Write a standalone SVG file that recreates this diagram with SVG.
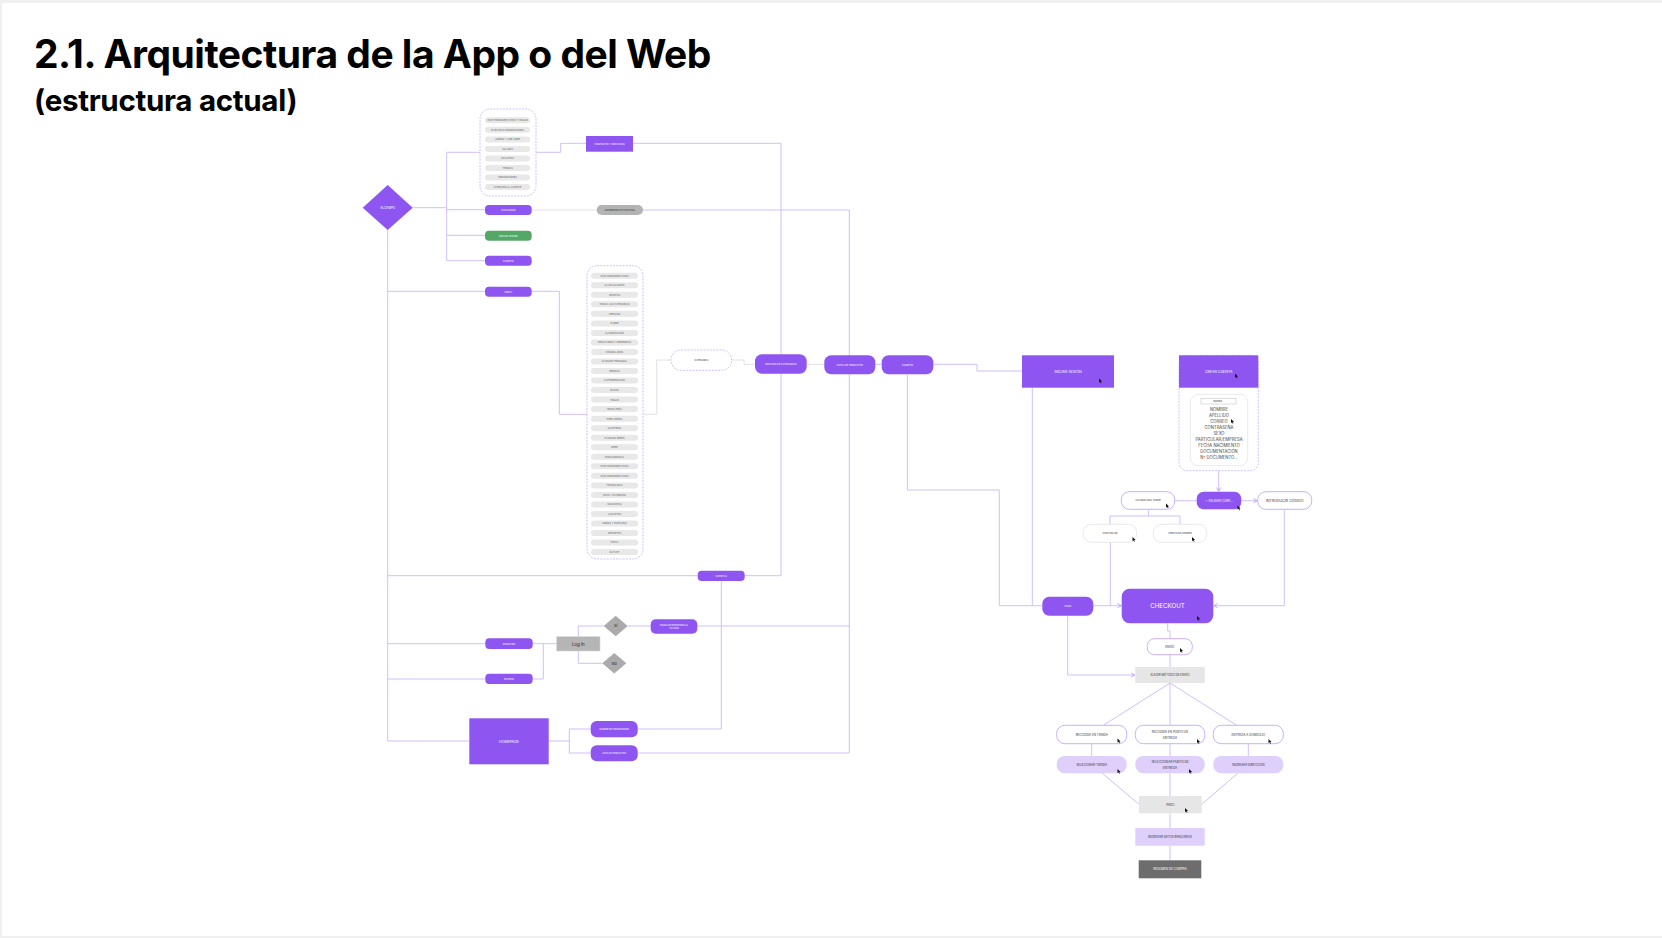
<svg xmlns="http://www.w3.org/2000/svg" width="1662" height="938" viewBox="0 0 1662 938">
<style>
.t{font-family:Inter,"Liberation Sans",sans-serif;text-anchor:middle}
.title{font-family:Inter,"Liberation Sans",sans-serif;font-weight:700;fill:#000}
.w{fill:#fff}
.d{fill:#333}
.li{fill:#666}
.s25{font-size:2.5px}
.s3{font-size:3px}
.s35{font-size:3.6px}
.c{fill:none;stroke:#d2bffb;stroke-width:1}
.cg{fill:none;stroke:#e2e2e2;stroke-width:1}
.p{fill:#8f55f1}
.pill{fill:#8f55f1}
.item{fill:#e8e8e8}
.dash{fill:#fff;stroke:#c7aefb;stroke-width:0.8;stroke-dasharray:2 1.2}
.wp{fill:#fff;stroke:#c4a6fb;stroke-width:0.9}
.wg{fill:#fff;stroke:#e3e3e3;stroke-width:0.8}
.lp{fill:#dfcffb}
.gr{fill:#e6e6e6}
</style>
<defs>
<marker id="ah" viewBox="0 0 6 6" refX="5" refY="3" markerWidth="5" markerHeight="5" orient="auto" markerUnits="userSpaceOnUse">
<path d="M0.5 0.5 L5 3 L0.5 5.5" fill="none" stroke="#b896fb" stroke-width="1"/>
</marker>
<path id="cur" d="M0 0 L0 4.2 L1 3.2 L1.8 4.8 L2.5 4.5 L1.7 2.9 L3.1 2.9 Z" fill="#111"/>
</defs>
<rect x="0" y="0" width="1662" height="938" fill="#f0f0f0"/>
<rect x="2" y="3" width="1660" height="933" fill="#fff"/>
<text class="title" x="34" y="68" font-size="39" letter-spacing="-0.5">2.1. Arquitectura de la App o del Web</text>
<text class="title" x="34" y="111" font-size="29.5" letter-spacing="-0.3">(estructura actual)</text>

<g id="connectors">
<path class="c" d="M412.7 207.7 H446.7"/>
<path class="c" d="M480 152.3 H446.7 V260.7 H485"/>
<path class="c" d="M446.7 209.7 H485"/>
<path class="c" d="M446.7 235.3 H485"/>
<path class="c" d="M536 152.3 H560.7 V143.3 H586"/>
<path class="c" d="M633 143.3 H781 V575.7 H744.7"/>
<path class="cg" d="M531.7 210 H596.7"/>
<path class="c" d="M643 210 H849.3 V753 H637.7"/>
<path class="c" d="M387.7 230 V741 H469.3"/>
<path class="c" d="M387.7 291.3 H485"/>
<path class="c" d="M531.7 291.3 H559.3 V414.3 H587"/>
<path class="c" d="M387.7 575.7 H697.7"/>
<path class="c" d="M721.3 581 V729 H637.7"/>
<path class="c" d="M387.7 643.7 H485.3"/>
<path class="c" d="M387.7 679 H485.3"/>
<path class="c" d="M532.7 643.7 H556.7"/>
<path class="c" d="M532.7 679 H543.3 V643.7"/>
<path class="c" d="M578.3 636.7 V626 H603.7"/>
<path class="c" d="M578.3 651 V663.3 H602.3"/>
<path class="c" d="M627.7 626 H650.7"/>
<path class="c" d="M697.3 626 H849.3"/>
<path class="c" d="M548.7 741 H569.3 M569.3 729 V753 M569.3 729 H590.7 M569.3 753 H590.7"/>
<path class="cg" d="M643 414.3 H656.7 V360 H671"/>
<path class="cg" d="M731.7 360 H744 V364.3 H755"/>
<path class="cg" d="M806.7 364.3 H824.3"/>
<path class="c" d="M875.3 364.3 H881.7"/>
<path class="c" d="M933.3 364.3 H977 V371 H1022"/>
<path class="c" d="M907.3 374.3 V490 H999.3 V605.7 H1042.3"/>
<path class="c" d="M1032.3 387.7 V605.7"/>
<path class="c" d="M1093.3 605.7 H1121.2" marker-end="url(#ah)"/>
<path class="c" d="M1110.3 542.3 V605.7"/>
<path class="c" d="M1284.3 509.3 V605.7 H1213.8" marker-end="url(#ah)"/>
<path class="c" d="M1218.7 387.7 V394" marker-end="url(#ah)"/>
<path class="c" d="M1218.7 465.7 V491.2" marker-end="url(#ah)"/>
<path class="c" d="M1196.7 500.7 H1174.7"/>
<path class="c" d="M1241.3 500.7 H1257.2" marker-end="url(#ah)"/>
<path class="c" d="M1148.3 509.3 V516 M1110 524.3 V516 H1180 V524.3"/>
<path class="c" d="M1167.7 623.3 V631 H1170 V638.7"/>
<path class="c" d="M1170 654.7 V667"/>
<path class="c" d="M1067.7 615.7 V675 H1134.8" marker-end="url(#ah)"/>
<path class="c" d="M1170 683 L1103.3 725.3 M1170 683 V725.3 M1170 683 L1236.7 725.3"/>
<path class="c" d="M1091.7 743.7 V756 M1170 743.7 V756 M1248.3 743.7 V756"/>
<path class="c" d="M1102.3 773.3 L1139 804.3 M1170 773.3 V796 M1237.7 773.3 L1201.7 804.3"/>
<path class="c" d="M1170 813.3 V828 M1170 845.7 V860.3"/>
</g>

<g id="alcampo">
<polygon class="p" points="387.7,185 412.7,207.7 387.7,230 362.7,207.7"/>
<text class="t w s3" x="387.7" y="208.8">ALCAMPO</text>
</g>

<g id="menu-superior">
<rect class="dash" x="480" y="109" width="56" height="87" rx="10"/>
<rect class="item" x="485" y="117.3" width="45" height="6" rx="3"/><text class="t li s25" x="507.5" y="121.2">ELECTRODOMÉSTICOS Y HOGAR</text>
<rect class="item" x="485" y="126.8" width="45" height="6" rx="3"/><text class="t li s25" x="507.5" y="130.7">NUESTRAS PROMOCIONES</text>
<rect class="item" x="485" y="136.4" width="45" height="6" rx="3"/><text class="t li s25" x="507.5" y="140.3">JARDÍN Y AIRE LIBRE</text>
<rect class="item" x="485" y="145.9" width="45" height="6" rx="3"/><text class="t li s25" x="507.5" y="149.8">SALARIO</text>
<rect class="item" x="485" y="155.4" width="45" height="6" rx="3"/><text class="t li s25" x="507.5" y="159.3">FOLLETOS</text>
<rect class="item" x="485" y="165" width="45" height="6" rx="3"/><text class="t li s25" x="507.5" y="168.9">TIENDAS</text>
<rect class="item" x="485" y="174.5" width="45" height="6" rx="3"/><text class="t li s25" x="507.5" y="178.4">PROMOCIONES</text>
<rect class="item" x="485" y="184" width="45" height="6" rx="3"/><text class="t li s25" x="507.5" y="187.9">ATENCIÓN AL CLIENTE</text>
</g>

<g id="contacto">
<rect class="p" x="586" y="136" width="47" height="15.7"/>
<text class="t w s25" x="609.5" y="144.7">CONTACTO Y SERVICIOS</text>
</g>
<g id="buscador">
<rect class="pill" x="485" y="205" width="46.7" height="10" rx="4"/>
<text class="t w s25" x="508.3" y="210.9">BUSCADOR</text>
</g>
<g id="sombreros">
<rect x="596.7" y="205" width="46.3" height="10" rx="5" fill="#b3b3b3"/>
<text class="t d s25" x="619.8" y="210.9">SOMBREROS BÚSQUEDA</text>
</g>
<g id="iniciar-verde">
<rect x="485" y="230.7" width="46.7" height="10" rx="4" fill="#53a866"/>
<text class="t w s25" x="508.3" y="236.6">INICIAR SESIÓN</text>
</g>
<g id="carrito-top">
<rect class="pill" x="485" y="255.7" width="46.7" height="10" rx="4"/>
<text class="t w s25" x="508.3" y="261.6">CARRITO</text>
</g>
<g id="menu">
<rect class="pill" x="485" y="286.7" width="46.7" height="10" rx="4"/>
<text class="t w s25" x="508.3" y="292.6">MENÚ</text>
</g>

<g id="categorias">
<rect class="dash" x="587" y="265.7" width="56" height="293.3" rx="10"/>
<g class="item">
<rect x="591" y="272.7" width="47" height="6" rx="3"/><rect x="591" y="282.2" width="47" height="6" rx="3"/><rect x="591" y="291.8" width="47" height="6" rx="3"/><rect x="591" y="301.3" width="47" height="6" rx="3"/><rect x="591" y="310.8" width="47" height="6" rx="3"/><rect x="591" y="320.4" width="47" height="6" rx="3"/><rect x="591" y="329.9" width="47" height="6" rx="3"/><rect x="591" y="339.4" width="47" height="6" rx="3"/><rect x="591" y="348.9" width="47" height="6" rx="3"/><rect x="591" y="358.5" width="47" height="6" rx="3"/><rect x="591" y="368" width="47" height="6" rx="3"/><rect x="591" y="377.5" width="47" height="6" rx="3"/><rect x="591" y="387.1" width="47" height="6" rx="3"/><rect x="591" y="396.6" width="47" height="6" rx="3"/><rect x="591" y="406.1" width="47" height="6" rx="3"/><rect x="591" y="415.7" width="47" height="6" rx="3"/><rect x="591" y="425.2" width="47" height="6" rx="3"/><rect x="591" y="434.7" width="47" height="6" rx="3"/><rect x="591" y="444.2" width="47" height="6" rx="3"/><rect x="591" y="453.8" width="47" height="6" rx="3"/><rect x="591" y="463.3" width="47" height="6" rx="3"/><rect x="591" y="472.8" width="47" height="6" rx="3"/><rect x="591" y="482.4" width="47" height="6" rx="3"/><rect x="591" y="491.9" width="47" height="6" rx="3"/><rect x="591" y="501.4" width="47" height="6" rx="3"/><rect x="591" y="511" width="47" height="6" rx="3"/><rect x="591" y="520.5" width="47" height="6" rx="3"/><rect x="591" y="530" width="47" height="6" rx="3"/><rect x="591" y="539.5" width="47" height="6" rx="3"/><rect x="591" y="549.1" width="47" height="6" rx="3"/>
</g>
<g class="t li s25">
<text x="614.5" y="276.6">ELECTRODOMÉSTICOS</text>
<text x="614.5" y="286.1">CLUB ALCAMPO</text>
<text x="614.5" y="295.7">OFERTAS</text>
<text x="614.5" y="305.2">TODAS LAS CATEGORÍAS</text>
<text x="614.5" y="314.7">FRESCOS</text>
<text x="614.5" y="324.3">CARNE</text>
<text x="614.5" y="333.8">ALIMENTACIÓN</text>
<text x="614.5" y="343.3">DESAYUNOS Y MERIENDAS</text>
<text x="614.5" y="352.8">CONGELADOS</text>
<text x="614.5" y="362.4">CUIDADO PERSONAL</text>
<text x="614.5" y="371.9">BEBIDAS</text>
<text x="614.5" y="381.4">SUPERMERCADO</text>
<text x="614.5" y="391">BAZAR</text>
<text x="614.5" y="400.5">HOGAR</text>
<text x="614.5" y="410">DROGUERÍA</text>
<text x="614.5" y="419.6">PERFUMERÍA</text>
<text x="614.5" y="429.1">CAFETERÍA</text>
<text x="614.5" y="438.6">CUIDADO BEBÉS</text>
<text x="614.5" y="448.1">BEBÉ</text>
<text x="614.5" y="457.7">PARAFARMACIA</text>
<text x="614.5" y="467.2">ELECTRODOMÉSTICOS</text>
<text x="614.5" y="476.7">ELECTRODOMÉSTICOS</text>
<text x="614.5" y="486.3">TECNOLOGÍA</text>
<text x="614.5" y="495.8">OCIO Y DIVERSIÓN</text>
<text x="614.5" y="505.3">MASCOTAS</text>
<text x="614.5" y="514.9">JUGUETES</text>
<text x="614.5" y="524.4">LIBROS Y PAPELERÍA</text>
<text x="614.5" y="533.9">DEPORTES</text>
<text x="614.5" y="543.4">TEXTIL</text>
<text x="614.5" y="553">OUTLET</text>
</g>
</g>

<g id="categoria">
<rect class="dash" x="671" y="350" width="60.7" height="20.3" rx="10"/>
<text class="t d s25" x="701.3" y="361">CATEGORÍA</text>
</g>
<g id="seccion">
<rect class="pill" x="755" y="354.3" width="51.7" height="19.4" rx="7"/>
<text class="t w s25" x="780.8" y="364.9">SECCIÓN DE CATEGORÍAS</text>
</g>
<g id="ficha">
<rect class="pill" x="824.3" y="355.3" width="51" height="19" rx="7"/>
<text class="t w s25" x="849.8" y="365.7">FICHA DE PRODUCTO</text>
</g>
<g id="carrito">
<rect class="pill" x="881.7" y="355.3" width="51.6" height="19" rx="7"/>
<text class="t w s25" x="907.5" y="365.7">CARRITO</text>
</g>
<g id="iniciar-sesion">
<rect class="p" x="1022" y="355.3" width="92" height="32.4"/>
<text class="t w s35" x="1068" y="372.7">INICIAR SESIÓN</text>
<use href="#cur" x="1099" y="378.5"/>
</g>

<g id="crear-cuenta">
<rect class="dash" x="1179" y="355.3" width="79.3" height="115.4" rx="8"/>
<rect class="p" x="1179" y="355.3" width="79.3" height="32.4"/>
<text class="t w s35" x="1218.7" y="372.7">CREAR CUENTA</text>
<use href="#cur" x="1235" y="373.5"/>
<rect x="1190.3" y="394.3" width="57.4" height="71.4" rx="8" fill="#fff" stroke="#e4e4e4" stroke-width="0.8"/>
<rect x="1201" y="398.7" width="35" height="5.3" fill="#fff" stroke="#bbb" stroke-width="0.5"/>
<text class="t d" x="1218.5" y="402.2" font-size="2px">NOMBRE...</text>
<g class="t" font-size="4.2px" fill="#444">
<text x="1219" y="410.5">NOMBRE</text>
<text x="1219" y="416.5">APELLIDO</text>
<text x="1219" y="422.5">CORREO</text>
<text x="1219" y="428.5">CONTRASEÑA</text>
<text x="1219" y="434.5">SEXO</text>
<text x="1219" y="440.5">PARTICULAR/EMPRESA</text>
<text x="1219" y="446.8">FECHA NACIMIENTO</text>
<text x="1219" y="452.8">DOCUMENTACIÓN</text>
<text x="1219" y="458.8">Nº DOCUMENTO...</text>
</g>
<use href="#cur" x="1231" y="419"/>
</g>

<g id="validar-mas-tarde">
<rect class="wp" x="1121.3" y="491.7" width="53.4" height="17.6" rx="8"/>
<text class="t d s25" x="1148" y="501.4">VALIDAR MÁS TARDE</text>
<use href="#cur" x="1166" y="503.5"/>
</g>
<g id="validar-correo">
<rect class="pill" x="1196.7" y="491.7" width="44.6" height="17.6" rx="7"/>
<text class="t w s3" x="1219" y="501.7">+ VALIDAR CORR...</text>
<use href="#cur" x="1237.5" y="505.5"/>
</g>
<g id="introducir-codigo">
<rect class="wp" x="1257.7" y="491.7" width="54" height="17.6" rx="8"/>
<text class="t d s35" x="1284.7" y="501.8">INTRODUCIR CÓDIGO</text>
</g>
<g id="continuar">
<rect class="wg" x="1083.3" y="524.3" width="53.4" height="18" rx="8"/>
<text class="t d s25" x="1110" y="534.2">CONTINUAR</text>
<use href="#cur" x="1132.5" y="537"/>
</g>
<g id="verificar-correo">
<rect class="wg" x="1153.3" y="524.3" width="53.4" height="18" rx="8"/>
<text class="t d s25" x="1180" y="534.2">VERIFICAR CORREO</text>
<use href="#cur" x="1192" y="537"/>
</g>

<g id="ofertas">
<rect class="pill" x="697.7" y="570.7" width="47" height="10.3" rx="4"/>
<text class="t w s25" x="721.2" y="576.7">OFERTAS</text>
</g>
<g id="registro">
<rect class="pill" x="485.3" y="638.3" width="47.4" height="10.7" rx="4"/>
<text class="t w s25" x="509" y="644.5">REGISTRO</text>
</g>
<g id="entrar">
<rect class="pill" x="485.3" y="673.7" width="47.4" height="10.3" rx="4"/>
<text class="t w s25" x="509" y="679.7">ENTRAR</text>
</g>
<g id="login">
<rect x="556.7" y="636.7" width="43.3" height="14.3" fill="#b5b5b5" stroke="#d6d6d6" stroke-width="0.6"/>
<text class="t" x="578.3" y="645.6" font-size="4.4px" fill="#222">Log In</text>
</g>
<g id="si">
<polygon points="615.7,615.7 627.7,626 615.7,636.3 603.7,626" fill="#ababab"/>
<text class="t" x="615.7" y="627.4" font-size="3.8px" fill="#222">Sí</text>
</g>
<g id="no">
<polygon points="614.3,653 626.3,663.3 614.3,673.6 602.3,663.3" fill="#ababab"/>
<text class="t" x="614.3" y="664.7" font-size="3.8px" fill="#222">No</text>
</g>
<g id="bienvenida">
<rect class="pill" x="650.7" y="619.3" width="46.6" height="14.4" rx="5"/>
<text class="t w" x="674" y="625.7" font-size="2.2px">PÁGINA DE BIENVENIDA AL</text>
<text class="t w" x="674" y="628.7" font-size="2.2px">USUARIO</text>
</g>
<g id="homepage">
<rect class="p" x="469.3" y="718.3" width="79.4" height="46"/>
<text class="t w s35" x="509" y="742.5">HOMEPAGE</text>
</g>
<g id="banner">
<rect class="pill" x="590.7" y="721" width="47" height="16.3" rx="6"/>
<text class="t w" x="614.2" y="730" font-size="2.2px">BANNER DE PROMOCIONES</text>
</g>
<g id="lista">
<rect class="pill" x="590.7" y="745.3" width="47" height="16" rx="6"/>
<text class="t w" x="614.2" y="754.2" font-size="2.2px">LISTA DE PRODUCTOS</text>
</g>

<g id="pago-pill">
<rect class="pill" x="1042.3" y="596.7" width="51" height="19" rx="7"/>
<text class="t w s25" x="1067.8" y="607">PAGO</text>
</g>
<g id="checkout">
<rect class="p" x="1121.7" y="588.7" width="91.6" height="34.6" rx="8"/>
<text class="t w" x="1167.5" y="608.3" font-size="6.2px">CHECKOUT</text>
<use href="#cur" x="1197" y="616"/>
</g>
<g id="envio">
<rect class="wp" x="1147.3" y="638.7" width="45" height="16" rx="7"/>
<text class="t d s3" x="1169.8" y="647.7">ENVÍO</text>
<use href="#cur" x="1180" y="648"/>
</g>
<g id="elegir">
<rect class="gr" x="1135.3" y="667" width="69.4" height="16"/>
<text class="t d s3" x="1170" y="676">ELEGIR MÉTODO DE ENVÍO</text>
</g>
<g id="recogida-tienda">
<rect class="wp" x="1056.7" y="725.3" width="70" height="18.4" rx="8"/>
<text class="t d s3" x="1091.7" y="735.6">RECOGIDA EN TIENDA</text>
<use href="#cur" x="1117.5" y="738.5"/>
</g>
<g id="recogida-punto">
<rect class="wp" x="1135.3" y="725.3" width="69.4" height="18.4" rx="8"/>
<text class="t d s3" x="1170" y="733.2">RECOGIDA EN PUNTO DE</text>
<text class="t d s3" x="1170" y="739">ENTREGA</text>
<use href="#cur" x="1197" y="739"/>
</g>
<g id="entrega-domicilio">
<rect class="wp" x="1213.3" y="725.3" width="70" height="18.4" rx="8"/>
<text class="t d s3" x="1248.3" y="735.6">ENTREGA A DOMICILIO</text>
<use href="#cur" x="1268.5" y="739"/>
</g>
<g id="seleccionar-tienda">
<rect class="lp" x="1056.7" y="756" width="70" height="17.3" rx="8"/>
<text class="t d s3" x="1091.7" y="765.8">SELECIONAR TIENDA</text>
<use href="#cur" x="1117.5" y="769"/>
</g>
<g id="seleccionar-punto">
<rect class="lp" x="1135.3" y="756" width="69.4" height="17.3" rx="8"/>
<text class="t d s3" x="1170" y="763.4">SELECCIONAR PUNTO DE</text>
<text class="t d s3" x="1170" y="769.4">ENTREGA</text>
<use href="#cur" x="1189" y="769"/>
</g>
<g id="ingresar-direccion">
<rect class="lp" x="1213.3" y="756" width="70" height="17.3" rx="8"/>
<text class="t d s3" x="1248.3" y="765.8">INGRESAR DIRECCIÓN</text>
</g>
<g id="pago">
<rect class="gr" x="1139" y="796" width="62.7" height="17.3"/>
<text class="t d s3" x="1170.3" y="805.7">PAGO</text>
<use href="#cur" x="1185" y="808"/>
</g>
<g id="datos-bancarios">
<rect class="lp" x="1135.3" y="828" width="69.4" height="17.7"/>
<text class="t d s3" x="1170" y="837.9">INGRESAR DATOS BANCARIOS</text>
</g>
<g id="resumen">
<rect x="1138.7" y="860.3" width="62.6" height="18" fill="#6d6d6d"/>
<text class="t w s3" x="1170" y="870.3">RESUMEN DE COMPRA</text>
</g>
</svg>
